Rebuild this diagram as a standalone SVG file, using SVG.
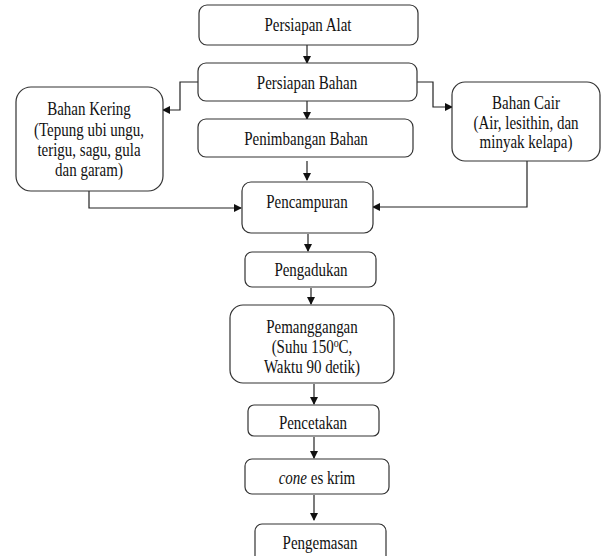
<svg xmlns="http://www.w3.org/2000/svg" width="602" height="556" viewBox="0 0 602 556">
<style>
.b{fill:#fff;stroke:#333;stroke-width:1.2}
.t{font-family:"Liberation Serif","Times New Roman",serif;font-size:15px;fill:#111;text-anchor:middle}
.c{fill:none;stroke:#222;stroke-width:1.2}
</style>
<defs>
<marker id="ah" markerUnits="userSpaceOnUse" markerWidth="8" markerHeight="8" refX="7" refY="4" orient="auto">
<path d="M0,0 L8,4 L0,8 z" fill="#111"/>
</marker>
</defs>
<rect width="602" height="556" fill="#fff"/>
<g id="connectors">
<path class="c" d="M307,45 V63" marker-end="url(#ah)"/>
<path class="c" d="M307,101 V119" marker-end="url(#ah)"/>
<path class="c" d="M307,161 V180" marker-end="url(#ah)"/>
<path class="c" d="M198,82 H180 V110 H163" marker-end="url(#ah)"/>
<path class="c" d="M417,82 H433 V107 H452" marker-end="url(#ah)"/>
<path class="c" d="M89,191 V208 H241" marker-end="url(#ah)"/>
<path class="c" d="M527,161 V207 H373" marker-end="url(#ah)"/>
<path class="c" d="M308,234 V251" marker-end="url(#ah)"/>
<path class="c" d="M311,288 V304" marker-end="url(#ah)"/>
<path class="c" d="M314,384 V404" marker-end="url(#ah)"/>
<path class="c" d="M314,437 V458" marker-end="url(#ah)"/>
<path class="c" d="M314,495 V520" marker-end="url(#ah)"/>
</g>
<g id="persiapan-alat">
<rect class="b" x="199" y="5" width="219" height="40" rx="8"/>
<text class="t" transform="translate(308,31) scale(1,1.2)">Persiapan Alat</text>
</g>
<g id="persiapan-bahan">
<rect class="b" x="198" y="63" width="219" height="38" rx="8"/>
<text class="t" transform="translate(307,89) scale(1,1.2)">Persiapan Bahan</text>
</g>
<g id="penimbangan-bahan">
<rect class="b" x="198" y="119" width="215" height="38" rx="8"/>
<text class="t" transform="translate(306,145) scale(1,1.2)">Penimbangan Bahan</text>
</g>
<g id="bahan-kering">
<rect class="b" x="16" y="87" width="147" height="104" rx="15"/>
<text class="t" transform="translate(89,115) scale(1,1.2)">Bahan Kering</text>
<text class="t" transform="translate(89,136) scale(1,1.2)">(Tepung ubi ungu,</text>
<text class="t" transform="translate(89,156) scale(1,1.2)">terigu, sagu, gula</text>
<text class="t" transform="translate(89,176) scale(1,1.2)">dan garam)</text>
</g>
<g id="bahan-cair">
<rect class="b" x="452" y="82" width="148" height="79" rx="13"/>
<text class="t" transform="translate(526,109) scale(1,1.2)">Bahan Cair</text>
<text class="t" transform="translate(526,129) scale(1,1.2)">(Air, lesithin, dan</text>
<text class="t" transform="translate(526,148) scale(1,1.2)">minyak kelapa)</text>
</g>
<g id="pencampuran">
<rect class="b" x="242" y="182" width="131" height="51" rx="9"/>
<text class="t" transform="translate(307,208) scale(1,1.2)">Pencampuran</text>
</g>
<g id="pengadukan">
<rect class="b" x="245" y="252" width="131" height="35" rx="7"/>
<text class="t" transform="translate(311,276) scale(1,1.2)">Pengadukan</text>
</g>
<g id="pemanggangan">
<rect class="b" x="230" y="305" width="164" height="78" rx="13"/>
<text class="t" transform="translate(312,333) scale(1,1.2)">Pemanggangan</text>
<text class="t" transform="translate(312,353) scale(1,1.2)">(Suhu 150<tspan dy="-5" font-size="10">o</tspan><tspan dy="5">C,</tspan></text>
<text class="t" transform="translate(312,373) scale(1,1.2)">Waktu 90 detik)</text>
</g>
<g id="pencetakan">
<rect class="b" x="248" y="405" width="131" height="31" rx="6"/>
<text class="t" transform="translate(313,429) scale(1,1.2)">Pencetakan</text>
</g>
<g id="cone-es-krim">
<rect class="b" x="245" y="459" width="144" height="35" rx="7"/>
<text class="t" transform="translate(317,484) scale(1,1.2)"><tspan font-style="italic">cone</tspan> es krim</text>
</g>
<g id="pengemasan">
<rect class="b" x="255" y="524" width="131" height="40" rx="7"/>
<text class="t" transform="translate(320,549) scale(1,1.2)">Pengemasan</text>
</g>
</svg>
